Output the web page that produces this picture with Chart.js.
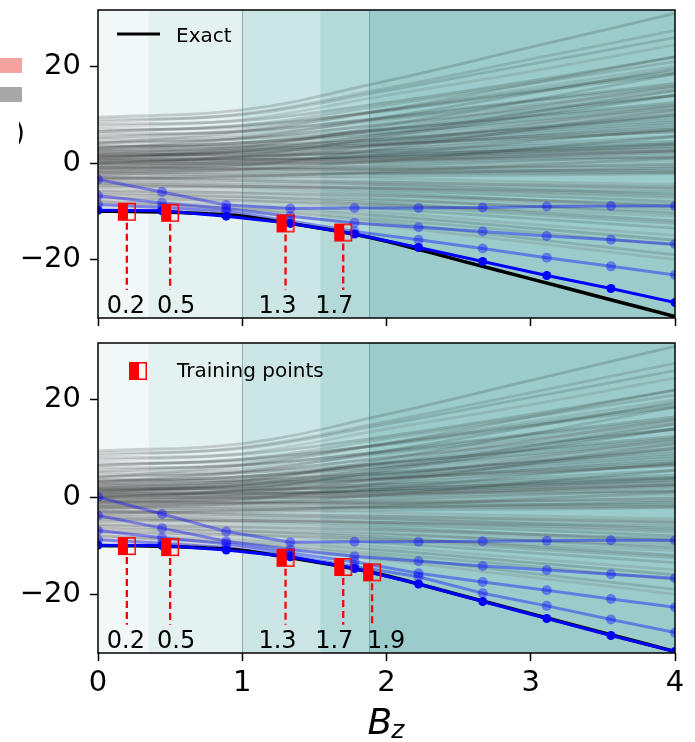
<!DOCTYPE html>
<html>
<head>
<meta charset="utf-8">
<script src="https://cdn.jsdelivr.net/npm/chart.js@4.4.1/dist/chart.umd.min.js"></script>
<style>
  html, body { margin: 0; padding: 0; background: #fff; }
  #wrap { position: relative; width: 695px; height: 742px; }
  canvas { position: absolute; left: 0; }
</style>
</head>
<body>
<div id="wrap">
  <canvas id="graficoTopo" width="695" height="330" style="top:0"></canvas>
  <canvas id="graficoBase" width="695" height="412" style="top:330px"></canvas>
</div>
<script>
Chart.defaults.font.family = 'DejaVu Sans'
Chart.defaults.color = '#000'

// ENSEMBLE CINZA (valores em Bz = 0, 1, 2, 3, 4)
const grayX = [0, 1, 2, 3, 4]
const grayLines = [
    [9.5, 11, 17, 24, 31],
    [8.5, 10.2, 15.5, 21.5, 27.5],
    [9, 10, 15, 20.5, 26],
    [7.5, 9, 14, 19, 24.5],
    [8, 8.8, 12.5, 17, 22],
    [6.5, 7.8, 12, 16.5, 21],
    [7, 7.5, 11, 15, 19],
    [5.5, 6.8, 11, 15.5, 20],
    [6, 6.5, 9.5, 13, 16.5],
    [5, 5.8, 9, 12, 15.5],
    [4.5, 5.3, 8, 11, 14],
    [4, 5, 8.2, 11.5, 15],
    [3.5, 4.2, 6.8, 9.8, 12.5],
    [3, 3.7, 6, 8.5, 11],
    [3.5, 3.5, 5, 7, 9],
    [2.5, 3.2, 5.5, 8, 10.5],
    [2, 2.7, 4.5, 6.5, 8.5],
    [2.5, 2.4, 3.8, 5.5, 7],
    [1.5, 2.2, 4, 6, 8],
    [1, 1.7, 3.2, 5, 6.5],
    [1.5, 1.4, 2.1, 3.1, 4],
    [0.5, 1.2, 2.5, 4, 5.5],
    [0, 0.6, 1.6, 2.8, 4],
    [0.5, 0.2, 0.6, 1.3, 2],
    [-0.5, 0.2, 1.2, 2.3, 3.5],
    [0, -0.2, 0.1, 0.6, 1],
    [-1, -0.4, 0.5, 1.5, 2.5],
    [-1.5, -1.1, -0.6, -0.1, 0.5],
    [-1, -1.2, -1.4, -1.5, -1.5],
    [-2, -1.3, -0.5, 0.5, 1.5],
    [-2.5, -2.3, -2.2, -2.1, -2],
    [-2, -2.6, -3.2, -3.9, -4.5],
    [-3, -2.6, -2.1, -1.6, -1],
    [-3.5, -3.6, -4, -4.5, -5],
    [-3, -3.7, -4.5, -5.5, -6.5],
    [-4, -4.1, -4.5, -5, -5.5],
    [-4.5, -5.2, -6.3, -7.7, -9],
    [-5, -4.9, -5.2, -5.6, -6],
    [-5.5, -6.3, -7.5, -9, -10.5],
    [-5, -5.8, -6.8, -8.2, -9.5],
    [-6, -6.9, -8.3, -10.2, -12],
    [-6.5, -7.4, -8.8, -10.7, -12.5],
    [-7, -7.9, -9.5, -11.5, -13.5],
    [-7.5, -8.5, -10.3, -12.7, -15],
    [-8, -9, -11, -13.5, -16],
    [-8.5, -9.5, -11.7, -14.3, -17],
    [-8, -9.6, -12.3, -15.7, -19],
    [-9, -10.2, -13, -16.5, -20],
    [0, 1.5, 5.5, 9.8, 14],
    [-2, -0.6, 3, 7, 11],
    [1, 3.2, 7.8, 13, 18.5],
    [-1, 0.5, 4, 8, 12],
    [3, 5.2, 9.5, 14.5, 19.5],
    [2, 1.7, 2, 2.5, 3],
    [0.2, 0.6, 1.5, 2.6, 3.8],
    [-0.3, 0, 0.7, 1.6, 2.6],
    [1.2, 2.1, 3.7, 5.6, 7.5],
    [-1.2, -0.6, 0.2, 1.2, 2.2],
    [2.2, 3.2, 5, 7.3, 9.5],
    [-2.2, -1.9, -1.4, -0.8, -0.2],
    [0.8, 0.8, 1.3, 1.9, 2.5],
    [-0.8, -1, -1, -0.9, -0.8],
    [1.8, 1.9, 2.6, 3.6, 4.5],
    [-1.8, -1.9, -1.9, -1.9, -1.8],
    [3.2, 4.2, 6.3, 8.9, 11.5],
    [-3.2, -3, -2.7, -2.5, -2.2],
    [2.8, 3, 3.9, 5.2, 6.5],
    [-2.8, -3.3, -3.9, -4.6, -5.2],
    [4.2, 5, 7, 9.5, 12],
    [-3.8, -4.4, -5.2, -6.2, -7.2],
    [0.3, 1.2, 2.8, 4.8, 6.8],
    [-0.6, -0.1, 0.8, 2, 3.2],
    [1.3, 2.5, 4.7, 7.4, 10],
    [-1.5, -1.4, -1.1, -0.7, -0.3],
    [5.2, 6.6, 9.3, 12.7, 16],
    [-4.5, -4.8, -5.3, -6, -6.8],
    [6.5, 7.8, 10.8, 14.7, 18.5],
    [-5.8, -6.2, -6.8, -7.7, -8.5],
    [2.5, 4.2, 7, 10.5, 14],
    [-6.5, -7, -7.8, -8.9, -10],
    [0.6, 2.5, 6, 10.5, 15],
    [-0.2, 1.2, 3.7, 6.8, 10],
    [-1.5, -0.2, 1.8, 4.5, 7],
    [1.7, 3.6, 7.2, 11.6, 16],
    [-2.5, -1.3, 0.5, 3, 5.5],
    [4, 6.5, 11, 16.5, 22],
    [-3.5, -2.8, -1.8, -0.4, 1],
    [-7.2, -7.8, -8.7, -9.8, -11],
    [-4.2, -4.8, -5.7, -6.8, -8],
    [0.9, 0.8, 0.8, 1, 1.2]
]

// LINHAS AZUIS (pontos em Bz)
const blueX = [0, 0.444, 0.889, 1.333, 1.778, 2.222, 2.667, 3.111, 3.556, 4]
const topFaded = [
    [-3.4, -6.0, -8.7, -9.4, -9.3, -9.3, -9.2, -9.0, -8.9, -8.9],
    [-6.8, -8.3, -9.4, -11.0, -12.4, -13.3, -14.2, -15.1, -15.9, -16.8],
    [-8.6, -9.2, -10.0, -12.0, -14.2, -15.9, -17.7, -19.6, -21.4, -23.2]
]
const topSolid = [-9.8, -9.9, -11.0, -12.5, -14.7, -17.5, -20.4, -23.3, -26.0, -28.9]
const bottomFaded = [
    [0, -3.5, -7.1, -9.3, -9.2, -9.2, -9.1, -9.0, -8.9, -8.9],
    [-3.8, -6.4, -9.1, -10.8, -12.2, -13.2, -14.2, -15.0, -15.9, -16.7],
    [-6.9, -8.4, -9.6, -11.5, -13.3, -15.7, -17.5, -19.2, -21.0, -22.7],
    [-8.8, -9.5, -10.4, -12.1, -14.3, -16.4, -19.8, -22.4, -25.2, -27.9]
]
const bottomSolid = [-9.9, -10.0, -10.9, -12.3, -14.7, -17.9, -21.5, -25.0, -28.5, -31.8]

// EXATO
const exactX = [0, 0.25, 0.5, 0.75, 1, 1.25, 1.5, 1.75, 2, 2.5, 3, 3.5, 4]
const exactY = [-10, -10.05, -10.2, -10.5, -11.0, -12.1, -13.3, -14.6, -16.2, -20.1, -24.0, -27.9, -31.8]

// PONTOS DE TREINO
const trainX = [0.2, 0.5, 1.3, 1.7, 1.9]
const trainE = [-10.1, -10.3, -12.5, -14.4, -15.5]
const trainLabels = ['0.2', '0.5', '1.3', '1.7', '1.9']
const dropTo = -26.3

// FAIXAS
const bandEdges = [0, 0.35, 1.0, 1.54, 1.88, 4]
const edgeLines = [1.0, 1.88]

const xTicks = [0, 1, 2, 3, 4]
const yTicks = [-20, 0, 20]


// estilos
const bandColors = ['#f2f8f8', '#e4f1f1', '#cce6e6', '#b3dad9', '#9bcccb']
const grayShades = ['rgba(30,30,30,0.19)', 'rgba(70,70,70,0.19)', 'rgba(20,20,20,0.15)', 'rgba(110,110,110,0.22)']
const labelShift = [-1, 6, -8, -9, 14]

const pts = (xs, ys) => xs.map((x, i) => ({ x: x, y: ys[i] }))

function halfSquare() {
    const c = document.createElement('canvas')
    c.width = 20
    c.height = 20
    const g = c.getContext('2d')
    g.fillStyle = '#ff0000'
    g.fillRect(1, 1, 10, 18)
    g.strokeStyle = '#ff0000'
    g.lineWidth = 1.5
    g.strokeRect(1.75, 1.75, 16.5, 16.5)
    return c
}
const marker = halfSquare()

function makeDatasets(faded, solid, nTrain) {
    const ds = []
    ds.push({
        data: pts(trainX.slice(0, nTrain), trainE.slice(0, nTrain)),
        showLine: false,
        pointStyle: marker,
        pointRadius: 9,
        order: 0
    })
    for (let i = 0; i < nTrain; i++) {
        ds.push({
            data: [{ x: trainX[i], y: trainE[i] }, { x: trainX[i], y: dropTo }],
            borderColor: '#ff0000',
            borderWidth: 2.3,
            borderDash: [7, 4],
            pointRadius: 0,
            order: 1
        })
    }
    ds.push({
        data: pts(blueX, solid),
        borderColor: '#0000ff',
        backgroundColor: '#0000ff',
        borderWidth: 3,
        pointRadius: 4.5,
        pointBorderWidth: 0,
        order: 2
    })
    ds.push({
        data: pts(exactX, exactY),
        borderColor: '#000',
        borderWidth: 3.5,
        pointRadius: 0,
        cubicInterpolationMode: 'monotone',
        order: 3
    })
    faded.forEach(serie => {
        ds.push({
            data: pts(blueX, serie),
            borderColor: 'rgba(0,0,255,0.38)',
            backgroundColor: 'rgba(0,0,255,0.38)',
            borderWidth: 3,
            pointRadius: 5,
            pointBorderWidth: 0,
            order: 4
        })
    })
    grayLines.forEach((linha, i) => {
        ds.push({
            data: pts(grayX, linha),
            borderColor: grayShades[i % grayShades.length],
            borderWidth: 2.8,
            pointRadius: 0,
            tension: 0.4,
            order: 5
        })
    })
    return ds
}

function makeDecor(tipo, nTrain) {
    return {
        id: 'decor',
        beforeDatasetsDraw(chart) {
            const { ctx, chartArea: a, scales: { x } } = chart
            ctx.save()
            for (let i = 0; i < bandEdges.length - 1; i++) {
                const x0 = x.getPixelForValue(bandEdges[i])
                const x1 = x.getPixelForValue(bandEdges[i + 1])
                ctx.fillStyle = bandColors[i]
                ctx.fillRect(x0, a.top, x1 - x0, a.bottom - a.top)
            }
            ctx.strokeStyle = 'rgba(40,110,110,0.45)'
            ctx.lineWidth = 1
            edgeLines.forEach(v => {
                const px = Math.round(x.getPixelForValue(v)) + 0.5
                ctx.beginPath()
                ctx.moveTo(px, a.top)
                ctx.lineTo(px, a.bottom)
                ctx.stroke()
            })
            ctx.restore()
        },
        afterDatasetsDraw(chart) {
            const { ctx, chartArea: a, scales: { x } } = chart
            ctx.save()
            ctx.fillStyle = '#000'
            ctx.font = '24px "DejaVu Sans"'
            ctx.textAlign = 'center'
            ctx.textBaseline = 'alphabetic'
            for (let i = 0; i < nTrain; i++) {
                ctx.fillText(trainLabels[i], x.getPixelForValue(trainX[i]) + labelShift[i], a.bottom - 5)
            }
            ctx.strokeStyle = '#000'
            ctx.lineWidth = 1.5
            ctx.strokeRect(a.left, a.top, a.right - a.left, a.bottom - a.top)
            ctx.restore()
        },
        afterDraw(chart) {
            const { ctx, chartArea: a } = chart
            ctx.save()
            ctx.fillStyle = '#000'
            ctx.textAlign = 'left'
            ctx.textBaseline = 'alphabetic'
            if (tipo === 'exact') {
                ctx.strokeStyle = '#000'
                ctx.lineWidth = 3
                ctx.beginPath()
                ctx.moveTo(117, 34)
                ctx.lineTo(160, 34)
                ctx.stroke()
                ctx.font = '20px "DejaVu Sans"'
                ctx.fillText('Exact', 176, 42)
                // pedaços cortados de outro painel, à esquerda
                ctx.fillStyle = '#f4a3a0'
                ctx.fillRect(0, 58, 22, 15)
                ctx.fillStyle = '#a8a8a8'
                ctx.fillRect(0, 87, 22, 15)
                ctx.beginPath()
                ctx.rect(19, 110, 5, 40)
                ctx.clip()
                ctx.fillStyle = '#000'
                ctx.font = '26px "DejaVu Sans"'
                ctx.textAlign = 'right'
                ctx.fillText(')', 25, 141)
            } else {
                ctx.drawImage(marker, 128, 31)
                ctx.font = '20px "DejaVu Sans"'
                ctx.fillText('Training points', 177, 47)
                // rótulo do eixo x: B com índice z
                ctx.font = 'italic 36px "DejaVu Sans"'
                const wB = ctx.measureText('B').width
                ctx.font = 'italic 25px "DejaVu Sans"'
                const wz = ctx.measureText('z').width
                const cx = (a.left + a.right) / 2 - (wB + wz) / 2
                ctx.font = 'italic 36px "DejaVu Sans"'
                ctx.fillText('B', cx, 404)
                ctx.font = 'italic 25px "DejaVu Sans"'
                ctx.fillText('z', cx + wB - 1, 408)
            }
            ctx.restore()
        }
    }
}

function getOptions(mostrarX, alturaX, topo) {
    return {
        responsive: false,
        animation: false,
        layout: { padding: { top: topo, right: 20, left: 0, bottom: 0 } },
        plugins: { legend: { display: false }, tooltip: { enabled: false } },
        scales: {
            x: {
                type: 'linear',
                min: 0,
                max: 4,
                afterBuildTicks: s => { s.ticks = xTicks.map(v => ({ value: v })) },
                afterFit: s => { s.height = alturaX; s.paddingLeft = 0; s.paddingRight = 0 },
                ticks: { display: mostrarX, autoSkip: false, padding: 5, font: { size: 29 }, color: '#000' },
                grid: { drawOnChartArea: false, drawTicks: true, tickLength: 8, tickWidth: 1.5, tickColor: '#000' },
                border: { display: false }
            },
            y: {
                min: -32.1,
                max: 31.7,
                afterBuildTicks: s => { s.ticks = yTicks.map(v => ({ value: v })) },
                afterFit: s => { s.width = 98; s.paddingTop = 0; s.paddingBottom = 0 },
                ticks: {
                    padding: 9,
                    font: { size: 29 },
                    color: '#000',
                    callback: v => v < 0 ? '\u2212' + Math.abs(v) : String(v)
                },
                grid: { drawOnChartArea: false, drawTicks: true, tickLength: 8, tickWidth: 1.5, tickColor: '#000' },
                border: { display: false }
            }
        }
    }
}

new Chart(document.getElementById('graficoTopo').getContext('2d'), {
    type: 'line',
    data: { datasets: makeDatasets(topFaded, topSolid, 4) },
    options: getOptions(false, 12, 8),
    plugins: [makeDecor('exact', 4)]
})

new Chart(document.getElementById('graficoBase').getContext('2d'), {
    type: 'line',
    data: { datasets: makeDatasets(bottomFaded, bottomSolid, 5) },
    options: getOptions(true, 89, 13),
    plugins: [makeDecor('train', 5)]
})
</script>
</body>
</html>
